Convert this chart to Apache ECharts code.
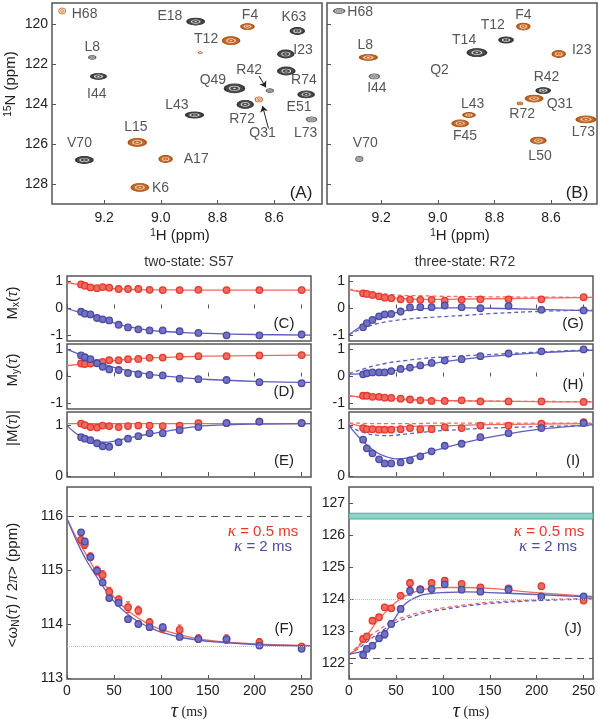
<!DOCTYPE html>
<html><head><meta charset="utf-8">
<script src="https://cdn.jsdelivr.net/npm/echarts@6/dist/echarts.min.js"></script>
<style>html,body{margin:0;padding:0;background:#fff}#c{width:600px;height:719px}</style>
</head><body><div id="c"></div>
<script>
// ===== Panels A / B : HSQC peaks  [1H ppm, 15N ppm, width ppm, height ppm, kind]
const peaksA = [
 [9.348,119.35,0.025,0.30,'or'],
 [8.877,119.88,0.060,0.35,'g'],
 [8.694,120.13,0.046,0.30,'o'],
 [8.518,120.35,0.049,0.35,'g'],
 [8.752,120.83,0.060,0.40,'o'],
 [8.861,121.43,0.012,0.08,'o'],
 [9.242,121.67,0.025,0.20,'gr'],
 [8.559,121.50,0.056,0.40,'g'],
 [8.557,122.35,0.060,0.40,'g'],
 [9.220,122.62,0.053,0.30,'g'],
 [8.740,123.22,0.070,0.45,'g'],
 [8.615,123.33,0.025,0.20,'gr'],
 [8.487,123.52,0.056,0.35,'g'],
 [8.654,123.77,0.025,0.25,'or'],
 [8.702,124.02,0.056,0.40,'g'],
 [8.881,124.55,0.060,0.30,'g'],
 [8.468,124.77,0.035,0.25,'gr'],
 [9.083,125.92,0.063,0.40,'o'],
 [9.270,126.80,0.060,0.35,'g'],
 [8.983,126.75,0.046,0.35,'o'],
 [9.074,128.17,0.060,0.40,'o']
];
const labelsA = [
 ['H68',9.269,119.50],['E18',8.968,119.63],['F4',8.685,119.55],['K63',8.530,119.67],
 ['T12',8.840,120.77],['L8',9.242,121.17],['I23',8.498,121.30],['R42',8.688,122.30],
 ['Q49',8.816,122.80],['R74',8.495,122.80],['I44',9.226,123.52],['L43',8.943,124.05],
 ['E51',8.512,124.17],['R72',8.713,124.75],['L15',9.088,125.17],['Q31',8.641,125.47],
 ['L73',8.489,125.47],['V70',9.287,125.97],['A17',8.875,126.77],['K6',9.001,128.22]
];
const arrowsA = [
 [[8.653,122.60],[8.629,123.17]],
 [[8.620,125.22],[8.641,124.10]]
];
const peaksB = [
 [9.348,119.35,0.039,0.25,'gr'],
 [8.698,120.13,0.046,0.35,'o'],
 [8.759,120.80,0.049,0.30,'g'],
 [8.862,121.43,0.067,0.40,'g'],
 [9.245,121.67,0.060,0.30,'o'],
 [8.573,121.50,0.046,0.35,'o'],
 [9.224,122.62,0.035,0.25,'gr'],
 [8.628,123.33,0.049,0.30,'g'],
 [8.660,123.73,0.060,0.35,'o'],
 [8.710,123.97,0.018,0.15,'or'],
 [8.890,124.55,0.042,0.25,'o'],
 [8.477,124.77,0.067,0.35,'o'],
 [8.921,124.97,0.056,0.35,'o'],
 [8.645,125.83,0.053,0.35,'o'],
 [9.277,126.75,0.025,0.25,'gr']
];
const labelsB = [
 ['H68',9.274,119.43],['F4',8.698,119.55],['T12',8.806,120.05],['T14',8.907,120.83],
 ['L8',9.256,121.05],['I23',8.492,121.30],['Q2',8.994,122.33],['R42',8.616,122.67],
 ['I44',9.215,123.22],['L43',8.877,124.00],['Q31',8.569,124.00],['R72',8.702,124.50],
 ['L73',8.486,125.43],['F45',8.904,125.63],['V70',9.256,125.97],['L50',8.639,126.63]
];
const hTicks = [8.6,8.8,9.0,9.2];
const nTicks = [120,122,124,126,128];

// ===== Relaxation-dispersion data (tau in ms)
const tau = [15,19,25,32,38,45,55,65,76,88,102,120,140,170,205,250];
const tauFit = [0,10,20,30,40,50,60,75,90,100,125,150,200,260];
const tauTicks = [0,50,100,150,200,250];

// two-state S57
const mxRed2  = [0.89,0.84,0.78,0.75,0.79,0.77,0.72,0.72,0.72,0.69,0.68,0.68,0.69,0.68,0.68,0.68];
const mxBlue2 = [-0.12,-0.19,-0.22,-0.35,-0.40,-0.44,-0.60,-0.70,-0.77,-0.81,-0.81,-0.84,-0.90,-0.99,-0.99,-0.96];
const myRed2  = [0.48,0.46,0.48,0.50,0.54,0.60,0.60,0.64,0.65,0.69,0.70,0.74,0.75,0.75,0.78,0.79];
const myBlue2 = [0.78,0.71,0.64,0.49,0.36,0.26,0.24,0.13,0.09,0.06,0.04,-0.08,-0.10,-0.13,-0.21,-0.25];
const mRed2   = [1.04,1.01,0.97,0.96,1.00,0.99,0.97,0.99,1.00,1.00,0.99,1.00,1.05,1.05,1.08,1.05];
const mBlue2  = [0.77,0.74,0.71,0.65,0.59,0.58,0.67,0.74,0.79,0.85,0.85,0.91,0.97,1.05,1.08,1.05];
const wRed2   = [115.56,115.48,115.25,114.99,114.91,114.60,114.45,114.31,114.25,114.03,113.92,113.89,113.73,113.72,113.66,113.58];
const wBlue2  = [115.70,115.53,115.24,114.99,114.77,114.48,114.39,114.09,114.00,113.94,113.94,113.76,113.72,113.72,113.60,113.54];
const eRed2   = [0.07,0.08,0.07,0.08,0.08,0.08,0.07,0.10,0.08,0.07,0.08,0.09,0.07,0.08,0.07,0.06];
const eBlue2  = [0.05,0.05,0.05,0.05,0.05,0.05,0.05,0.05,0.05,0.05,0.05,0.05,0.05,0.05,0.05,0.05];
const fitMxRed2  = [0.96,0.90,0.85,0.80,0.76,0.73,0.72,0.70,0.69,0.69,0.68,0.68,0.68,0.68];
const fitMxBlue2 = [0.00,-0.11,-0.21,-0.31,-0.41,-0.53,-0.63,-0.73,-0.81,-0.84,-0.89,-0.92,-0.96,-0.98];
const fitMyRed2  = [0.40,0.44,0.48,0.52,0.56,0.59,0.62,0.66,0.69,0.70,0.73,0.75,0.77,0.79];
const fitMyBlue2 = [1.00,0.86,0.72,0.58,0.45,0.34,0.25,0.15,0.07,0.03,-0.05,-0.11,-0.18,-0.22];
const fitMRed2   = [1.04,1.04,1.04,1.04,1.04,1.04,1.04,1.04,1.04,1.04,1.04,1.04,1.04,1.04];
const fitMBlue2  = [1.00,0.84,0.74,0.68,0.67,0.69,0.73,0.79,0.84,0.87,0.95,1.00,1.03,1.04];
const fitWRed2   = [115.95,115.60,115.30,115.00,114.73,114.50,114.32,114.12,113.97,113.90,113.78,113.70,113.63,113.60];
const fitWBlue2  = [115.95,115.55,115.20,114.92,114.65,114.42,114.25,114.05,113.92,113.85,113.74,113.68,113.62,113.59];
const refF = {start:116.0, end:113.58};

// three-state R72
const mxRed3  = [0.56,0.54,0.50,0.45,0.40,0.38,0.34,0.33,0.32,0.32,0.29,0.32,0.34,0.34,0.34,0.42];
const mxBlue3 = [-0.69,-0.54,-0.42,-0.29,-0.22,-0.20,-0.11,0.04,0.05,0.05,0.11,0.05,0.01,0.10,-0.05,-0.07];
const myRed3  = [-0.71,-0.71,-0.75,-0.75,-0.78,-0.79,-0.82,-0.85,-0.88,-0.90,-0.90,-0.88,-0.92,-0.92,-0.92,-0.94];
const myBlue3 = [0.08,0.12,0.15,0.15,0.15,0.20,0.28,0.33,0.41,0.50,0.59,0.64,0.75,0.85,0.93,1.00];
const mRed3   = [0.95,0.93,0.93,0.92,0.92,0.92,0.93,0.95,0.93,0.93,0.97,0.95,1.00,1.00,1.04,1.07];
const mBlue3  = [0.72,0.55,0.45,0.33,0.25,0.25,0.27,0.31,0.39,0.49,0.60,0.64,0.77,0.85,0.95,1.05];
const wRed3   = [122.75,122.83,123.32,123.43,123.74,123.71,124.10,124.50,124.31,124.50,124.57,124.47,124.36,124.33,124.40,123.95];
const wBlue3  = [122.25,122.44,122.54,122.77,122.90,123.22,123.69,124.26,124.29,124.31,124.46,124.29,124.23,124.29,124.08,124.08];
const eRed3   = [0.08,0.08,0.07,0.08,0.08,0.09,0.08,0.10,0.08,0.09,0.09,0.08,0.07,0.08,0.09,0.08];
const eBlue3  = [0.06,0.06,0.07,0.08,0.12,0.10,0.09,0.14,0.08,0.08,0.08,0.07,0.07,0.07,0.07,0.06];
const fitMxRed3   = [0.71,0.62,0.54,0.47,0.42,0.38,0.36,0.34,0.34,0.34,0.35,0.36,0.38,0.41];
const fitMxRed3d  = [0.71,0.65,0.60,0.56,0.53,0.50,0.48,0.47,0.46,0.45,0.44,0.43,0.42,0.41];
const fitMxBlue3  = [-0.97,-0.72,-0.52,-0.36,-0.24,-0.15,-0.08,-0.02,0.01,0.02,0.02,0.01,-0.03,-0.09];
const fitMxBlue3d = [-0.97,-0.80,-0.66,-0.56,-0.49,-0.44,-0.40,-0.35,-0.32,-0.30,-0.25,-0.19,-0.11,-0.05];
const fitMyRed3   = [-0.72,-0.74,-0.76,-0.78,-0.80,-0.82,-0.84,-0.86,-0.88,-0.89,-0.90,-0.91,-0.93,-0.94];
const fitMyRed3d  = [-0.72,-0.76,-0.79,-0.82,-0.84,-0.85,-0.86,-0.87,-0.88,-0.89,-0.90,-0.91,-0.92,-0.93];
const fitMyBlue3  = [0.09,0.10,0.12,0.15,0.18,0.23,0.28,0.38,0.48,0.54,0.65,0.74,0.87,0.97];
const fitMyBlue3d = [0.10,0.22,0.33,0.42,0.49,0.55,0.59,0.65,0.70,0.72,0.77,0.81,0.90,0.99];
const fitMRed3    = [1.05,1.00,0.98,0.97,0.97,0.97,0.98,0.99,1.00,1.00,1.01,1.02,1.03,1.04];
const fitMRed3d   = [1.05,1.05,1.04,1.04,1.04,1.04,1.04,1.04,1.05,1.05,1.05,1.05,1.05,1.05];
const fitMBlue3   = [1.00,0.78,0.60,0.46,0.38,0.34,0.35,0.42,0.50,0.55,0.67,0.77,0.92,1.02];
const fitMBlue3d  = [1.00,0.90,0.84,0.81,0.80,0.81,0.83,0.86,0.89,0.90,0.93,0.95,0.98,1.00];
const fitWRed3    = [122.25,122.50,122.90,123.30,123.62,123.90,124.10,124.27,124.34,124.36,124.36,124.33,124.20,124.08];
const fitWBlue3   = [122.28,122.33,122.45,122.68,123.00,123.45,123.85,124.10,124.18,124.20,124.22,124.20,124.14,124.06];
const fitWRed3d   = [122.25,122.55,122.80,123.00,123.20,123.35,123.45,123.58,123.67,123.72,123.82,123.90,123.97,124.02];
const fitWBlue3d  = [122.25,122.45,122.68,122.90,123.10,123.27,123.38,123.52,123.62,123.67,123.78,123.86,123.95,124.00];
const refJ = {start:122.15, end:124.0, bandLow:126.5, bandHigh:126.68};

// ===== styling
const FONT = '"Liberation Sans", Arial, Helvetica, sans-serif';
const SERIF = '"Liberation Serif", "DejaVu Serif", serif';
const RED = '#e8372d', REDL = '#f26a5c', BLUE = '#4a4aa6', BLUEL = '#5e5ebd';
const REDF = '#ef6a5f', BLUEF = '#7272c0';
const TXT = '#222', FRAME = '#555';

const chart = echarts.init(document.getElementById('c'), null, {renderer:'canvas'});

const gridBoxes = [
 [52,3,270,201],[327,3,270,201],
 [67,276,244,65],[67,344,244,65],[67,412,244,65],[67,487,244,192],
 [349,276,244,65],[349,344,244,65],[349,412,244,65],[349,487,244,192]
];
const grid = gridBoxes.map(b=>({left:b[0],top:b[1],width:b[2],height:b[3],show:true,borderColor:FRAME,borderWidth:1.5,backgroundColor:'rgba(0,0,0,0)'}));

function tickCfg(vals){ return {show:true,inside:true,length:4,customValues:vals,lineStyle:{color:FRAME,width:1}}; }
function labCfg(vals,show,fmt){ const o={show:show,customValues:vals,fontSize:14,color:TXT,fontFamily:FONT,margin:5}; if(fmt) o.formatter=fmt; return o; }

const xAxis = [], yAxis = [];
// A, B
[[0,8.431,9.384,true],[1,8.438,9.391,false]].forEach(a=>{
  xAxis.push({type:'value',gridIndex:a[0],min:a[1],max:a[2],inverse:true,axisLine:{show:false},splitLine:{show:false},
    axisTick:tickCfg(hTicks),axisLabel:Object.assign(labCfg(hTicks,true,v=>v.toFixed(1)),{margin:7})});
  yAxis.push({type:'value',gridIndex:a[0],min:118.95,max:129,inverse:true,axisLine:{show:false},splitLine:{show:false},
    axisTick:tickCfg(nTicks),axisLabel:Object.assign(labCfg(nTicks,a[3]),{margin:4})});
});
const yR = [
 [2,-1.2,1.2,[-1,0,1]],[3,-1.2,1.2,[-1,0,1]],[4,-0.02,1.27,[0,1]],[5,112.98,116.54,[113,114,115,116]],
 [6,-1.2,1.2,[-1,0,1]],[7,-1.2,1.2,[-1,0,1]],[8,-0.02,1.27,[0,1]],[9,121.5,127.5,[122,123,124,125,126,127]]
];
yR.forEach(r=>{
  const g=r[0];
  xAxis.push({type:'value',gridIndex:g,min:0,max:260,axisLine:{show:false},splitLine:{show:false},
    axisTick:tickCfg(tauTicks),axisLabel:labCfg(tauTicks,g===5||g===9)});
  yAxis.push({type:'value',gridIndex:g,min:r[1],max:r[2],axisLine:{show:false},splitLine:{show:false},
    axisTick:tickCfg(r[3]),axisLabel:Object.assign(labCfg(r[3],true),{margin:4})});
});

function zip(xs,ys){ return xs.map((x,i)=>[x,ys[i]]); }

const PEAK = {
  g:{fill:'#4a4a4a',stroke:'#333',inner:'#d6d6d6'},
  o:{fill:'#c5692a',stroke:'#a95518',inner:'#f3d6bd'},
  gr:{fill:'#c4c4c4',stroke:'#666',inner:'#888'},
  or:{fill:'#fbeee4',stroke:'#c5692a',inner:'#c5692a'}
};
function peakSeries(g,peaks){
  return {type:'custom',xAxisIndex:g,yAxisIndex:g,encode:{x:0,y:1},silent:true,z:3,
    data:peaks.map(p=>[p[0],p[1],p[2],p[3]]),
    renderItem:(params,api)=>{
      const p=peaks[params.dataIndex];
      const c=api.coord([p[0],p[1]]);
      const s=api.size([p[2],p[3]],[p[0],p[1]]);
      const ry=Math.max(s[1]/2,0.8), sx=(s[0]/2)/ry;
      const st=PEAK[p[4]];
      return {type:'group',children:[
        {type:'circle',x:c[0],y:c[1],scaleX:sx,shape:{cx:0,cy:0,r:ry},style:{fill:st.fill,stroke:st.stroke,lineWidth:0.8}},
        {type:'circle',x:c[0],y:c[1],scaleX:sx,shape:{cx:0,cy:0,r:ry*0.5},style:{fill:'none',stroke:st.inner,lineWidth:0.6}},
        {type:'circle',x:c[0],y:c[1],scaleX:sx,shape:{cx:0,cy:0,r:Math.max(ry*0.15,0.5)},style:{fill:st.inner}}
      ]};
    }};
}
function labelSeries(g,labels){
  return {type:'scatter',xAxisIndex:g,yAxisIndex:g,symbolSize:1,silent:true,z:4,
    itemStyle:{color:'rgba(0,0,0,0)'},
    data:labels.map(l=>({name:l[0],value:[l[1],l[2]]})),
    label:{show:true,position:'inside',formatter:'{b}',color:'#2a2a2a',fontSize:14,fontFamily:FONT}};
}
function fitLine(g,ys,color,dashed,extra){
  return Object.assign({type:'line',xAxisIndex:g,yAxisIndex:g,data:zip(tauFit,ys),smooth:0.35,showSymbol:false,symbol:'none',silent:true,z:2,
    lineStyle:{color:color,width:1.3,type:dashed?[4,3]:'solid'}},extra||{});
}
function dots(g,ys,color,fill){
  return {type:'scatter',xAxisIndex:g,yAxisIndex:g,data:zip(tau,ys),symbol:'circle',symbolSize:6.5,silent:true,z:4,
    itemStyle:{color:fill,opacity:1,borderColor:color,borderWidth:1.3}};
}
function errBars(g,ys,es,color){
  return {type:'custom',xAxisIndex:g,yAxisIndex:g,encode:{x:0,y:1},silent:true,z:3,
    data:tau.map((t,i)=>[t,ys[i],es[i]]),
    renderItem:(params,api)=>{
      const x=api.value(0),y=api.value(1),e=api.value(2);
      const a=api.coord([x,y-e]),b=api.coord([x,y+e]);
      const st={stroke:color,lineWidth:1};
      return {type:'group',children:[
        {type:'line',shape:{x1:a[0],y1:a[1],x2:b[0],y2:b[1]},style:st},
        {type:'line',shape:{x1:a[0]-2,y1:a[1],x2:a[0]+2,y2:a[1]},style:st},
        {type:'line',shape:{x1:b[0]-2,y1:b[1],x2:b[0]+2,y2:b[1]},style:st}
      ]};
    }};
}
function refLines(startV,endV){
  return {silent:true,symbol:'none',label:{show:false},animation:false,
    data:[{yAxis:startV,lineStyle:{color:'#555',type:[7,5],width:1.2}},
          {yAxis:endV,lineStyle:{color:'#bbb',type:[1,1],width:1}}]};
}
const R = [RED,REDF], B = [BLUE,BLUEF];

const series = [
  peakSeries(0,peaksA), labelSeries(0,labelsA),
  {type:'lines',coordinateSystem:'cartesian2d',xAxisIndex:0,yAxisIndex:0,silent:true,z:4,
   data:arrowsA.map(a=>({coords:a})),symbol:['none','arrow'],symbolSize:6,lineStyle:{color:'#222',width:1,opacity:1}},
  peakSeries(1,peaksB), labelSeries(1,labelsB),
  // C
  fitLine(2,fitMxRed2,REDL), fitLine(2,fitMxBlue2,BLUEL), dots(2,mxRed2,...R), dots(2,mxBlue2,...B),
  // D
  fitLine(3,fitMyRed2,REDL), fitLine(3,fitMyBlue2,BLUEL), dots(3,myRed2,...R), dots(3,myBlue2,...B),
  // E
  fitLine(4,fitMRed2,REDL), fitLine(4,fitMBlue2,BLUEL), dots(4,mRed2,...R), dots(4,mBlue2,...B),
  // F
  fitLine(5,fitWRed2,REDL,false,{markLine:refLines(refF.start,refF.end)}), fitLine(5,fitWBlue2,BLUEL),
  errBars(5,wRed2,eRed2,RED), errBars(5,wBlue2,eBlue2,BLUE), dots(5,wRed2,...R), dots(5,wBlue2,...B),
  // G
  fitLine(6,fitMxRed3d,REDL,true), fitLine(6,fitMxBlue3d,BLUEL,true),
  fitLine(6,fitMxRed3,REDL), fitLine(6,fitMxBlue3,BLUEL), dots(6,mxRed3,...R), dots(6,mxBlue3,...B),
  // H
  fitLine(7,fitMyRed3d,REDL,true), fitLine(7,fitMyBlue3d,BLUEL,true),
  fitLine(7,fitMyRed3,REDL), fitLine(7,fitMyBlue3,BLUEL), dots(7,myRed3,...R), dots(7,myBlue3,...B),
  // I
  fitLine(8,fitMRed3d,REDL,true), fitLine(8,fitMBlue3d,BLUEL,true),
  fitLine(8,fitMRed3,REDL), fitLine(8,fitMBlue3,BLUEL), dots(8,mRed3,...R), dots(8,mBlue3,...B),
  // J
  fitLine(9,fitWRed3d,REDL,true,{markLine:refLines(refJ.start,refJ.end),
    markArea:{silent:true,itemStyle:{color:'#90d2c8',borderColor:'#4fa79b',borderWidth:1},data:[[{yAxis:refJ.bandLow},{yAxis:refJ.bandHigh}]]}}),
  fitLine(9,fitWBlue3d,BLUEL,true),
  fitLine(9,fitWRed3,REDL), fitLine(9,fitWBlue3,BLUEL),
  errBars(9,wRed3,eRed3,RED), errBars(9,wBlue3,eBlue3,BLUE), dots(9,wRed3,...R), dots(9,wBlue3,...B)
];

// ===== texts
const RICH = {
  m:{fontSize:15,fontFamily:FONT,fill:TXT,color:TXT},
  s:{fontSize:10,fontFamily:FONT,fill:TXT,color:TXT,verticalAlign:'bottom',lineHeight:12},
  sup:{fontSize:10,fontFamily:FONT,fill:TXT,color:TXT,verticalAlign:'top',lineHeight:12},
  t:{fontSize:16,fontFamily:SERIF,fontStyle:'italic',fill:TXT,color:TXT}
};
function T(x,y,text,opt){
  opt=opt||{};
  const style={text:text,x:0,y:0,fill:opt.color||TXT,fontSize:opt.size||14,fontFamily:opt.family||FONT,
    fontStyle:opt.italic?'italic':'normal',align:opt.align||'center',verticalAlign:'middle',
    textAlign:opt.align||'center',textVerticalAlign:'middle'};
  if(opt.rich) style.rich=opt.rich;
  const el={type:'text',x:x,y:y,style:style,silent:true,z:100};
  if(opt.rot) el.rotation=opt.rot;
  return el;
}
const kapRich = c => ({k:{fontSize:17,fontFamily:SERIF,fontStyle:'italic',fill:c,color:c},n:{fontSize:15,fontFamily:FONT,fill:c,color:c}});
const tauRich = {t:{fontSize:20,fontFamily:SERIF,fontStyle:'italic',fill:TXT},u:{fontSize:14,fontFamily:SERIF,fill:TXT}};
const graphic = [
  T(11,84,'{sup|15}{m|N (ppm)}',{rich:RICH,rot:Math.PI/2}),
  T(180,236,'{sup|1}{m|H (ppm)}',{rich:RICH}),
  T(460,236,'{sup|1}{m|H (ppm)}',{rich:RICH}),
  T(189,262,'two-state: S57',{color:'#333'}),
  T(465,262,'three-state: R72',{color:'#333'}),
  T(13,303,'{m|M}{s|x}{m|(}{t|τ}{m|)}',{rich:RICH,rot:Math.PI/2}),
  T(13,370,'{m|M}{s|y}{m|(}{t|τ}{m|)}',{rich:RICH,rot:Math.PI/2}),
  T(13,428,'{m||M(}{t|τ}{m|)|}',{rich:RICH,rot:Math.PI/2}),
  T(13,585,'{m|<ω}{s|N}{m|(}{t|τ}{m|) / 2}{t|π}{m|> (ppm)}',{rich:RICH,rot:Math.PI/2}),
  T(189,712,'{t|τ}{u| (ms)}',{rich:tauRich}),
  T(471,712,'{t|τ}{u| (ms)}',{rich:tauRich}),
  T(301,193,'(A)',{size:17}), T(577,193,'(B)',{size:17}),
  T(284,324,'(C)',{size:15}), T(284,392,'(D)',{size:15}), T(284,461,'(E)',{size:15}), T(284,629,'(F)',{size:15}),
  T(573,324,'(G)',{size:15}), T(573,385,'(H)',{size:15}), T(573,461,'(I)',{size:15}), T(573,629,'(J)',{size:15}),
  T(263,532,'{k|κ}{n| = 0.5 ms}',{rich:kapRich(RED)}),
  T(263,547,'{k|κ}{n| = 2 ms}',{rich:kapRich(BLUE)}),
  T(549,532,'{k|κ}{n| = 0.5 ms}',{rich:kapRich(RED)}),
  T(548,547,'{k|κ}{n| = 2 ms}',{rich:kapRich(BLUE)})
];

chart.setOption({animation:false,backgroundColor:'#fff',grid:grid,xAxis:xAxis,yAxis:yAxis,series:series,graphic:graphic});
</script>
</body></html>
